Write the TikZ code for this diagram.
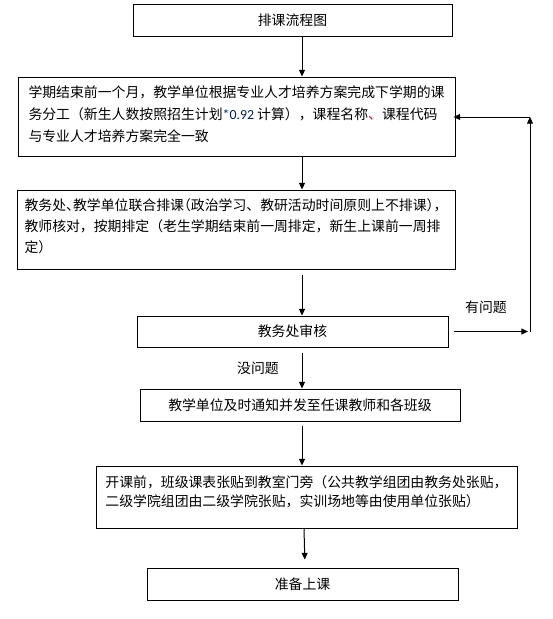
\documentclass[tikz,border=0pt]{standalone}
\usepackage{fontspec}
\setmainfont{Noto Sans CJK SC}
\newfontfamily\latinfont{Carlito}
\usetikzlibrary{arrows.meta}
\definecolor{numblue}{RGB}{0,32,96}
\newcommand{\halfl}[1]{\makebox[0.5em][l]{#1}}
\newcommand{\halfr}[1]{\makebox[0.5em][r]{#1}}

\tikzset{every picture/.style={line width=0.75pt}}
\tikzset{
  flowbox/.style={draw, inner sep=0pt, align=left, font={\fontsize{10.4}{16.5}\selectfont}},
  flowlabel/.style={inner sep=0.75pt, font={\fontsize{10.4}{12}\selectfont}},
  flowarrow/.style={-{Triangle[width=4.5pt,length=5pt]}},
}

\begin{document}
\begin{tikzpicture}[x=0.75pt,y=0.75pt,yscale=-1,xscale=1]
		\useasboundingbox (0,0) rectangle (553,619);
		\coordinate (spine) at (302,0);
		\coordinate (loopr) at (530,331.5);
		\coordinate (loopt) at (530,117);

		%Shape: Rectangle
		\draw (292.5,20) node [flowbox, minimum width=239.25pt, minimum height=24pt] (title) {排课流程图};
		%Shape: Rectangle
		\draw (236.5,116.5) node [flowbox, minimum width=327.75pt, minimum height=59.25pt, text depth=5pt] (fengong) {学期结束前一个月，教学单位根据专业人才培养方案完成下学期的课\\务分工（新生人数按照招生计划{\latinfont\color{numblue}*0.92} 计算），课程名称{\color{red}、}课程代码\\与专业人才培养方案完全一致};
		%Shape: Rectangle
		\draw (236,229.5) node [flowbox, minimum width=328.5pt, minimum height=59.25pt, text depth=6.5pt, font={\fontsize{10.4}{15.75}\selectfont}] (paike) {教务处\halfl{、}教学单位联合排课\halfr{（}政治学习、教研活动时间原则上不排课\halfl{）}，\\教师核对，按期排定（老生学期结束前一周排定，新生上课前一周排\\定）};
		%Shape: Rectangle
		\draw (292.5,331.5) node [flowbox, minimum width=233.25pt, minimum height=23.25pt] (shenhe) {教务处审核};
		%Shape: Rectangle
		\draw (300,405) node [flowbox, minimum width=240pt, minimum height=24pt] (tongzhi) {教学单位及时通知并发至任课教师和各班级};
		%Shape: Rectangle
		\draw (306.5,497) node [flowbox, minimum width=315.75pt, minimum height=46.5pt, text depth=9.5pt, font={\fontsize{10.4}{14.25}\selectfont}] (zhangtie) {开课前，班级课表张贴到教室门旁（公共教学组团由教务处张贴，\\二级学院组团由二级学院张贴，实训场地等由使用单位张贴）};
		%Shape: Rectangle
		\draw (302.5,584) node [flowbox, minimum width=233.25pt, minimum height=24pt] (shangke) {准备上课};

		%Straight Lines
		\draw [flowarrow] (title.south -| spine) -- (fengong.north -| spine);
		%Straight Lines
		\draw [flowarrow] (fengong.south -| spine) -- (paike.north -| spine);
		%Straight Lines
		\draw [flowarrow, shorten <=3.75pt] (paike.south -| spine) -- (shenhe.north -| spine);
		%Straight Lines
		\draw [flowarrow, shorten <=3.75pt] (shenhe.south -| spine) -- (tongzhi.north -| spine);
		%Straight Lines
		\draw [flowarrow, shorten <=3pt] (tongzhi.south -| spine) -- (zhangtie.north -| spine);
		%Straight Lines
		\draw [flowarrow, shorten >=6pt] ([xshift=1.5pt]zhangtie.south -| spine) -- ([xshift=2.25pt]shangke.north -| spine);

		%Straight Lines
		\draw [flowarrow, shorten <=3.75pt, shorten >=1.5pt] (shenhe.east) -- (shenhe.east -| loopr);
		%Straight Lines
		\draw [flowarrow] (loopr) -- (loopt);
		%Straight Lines
		\draw [flowarrow, shorten >=-1.5pt] (loopt) -- (fengong.east |- loopt);

		% Text Node
		\draw (486,307) node [flowlabel] (youwenti) {有问题};
		% Text Node
		\draw (258,368) node [flowlabel] (meiwenti) {没问题};

	\end{tikzpicture}
\end{document}
